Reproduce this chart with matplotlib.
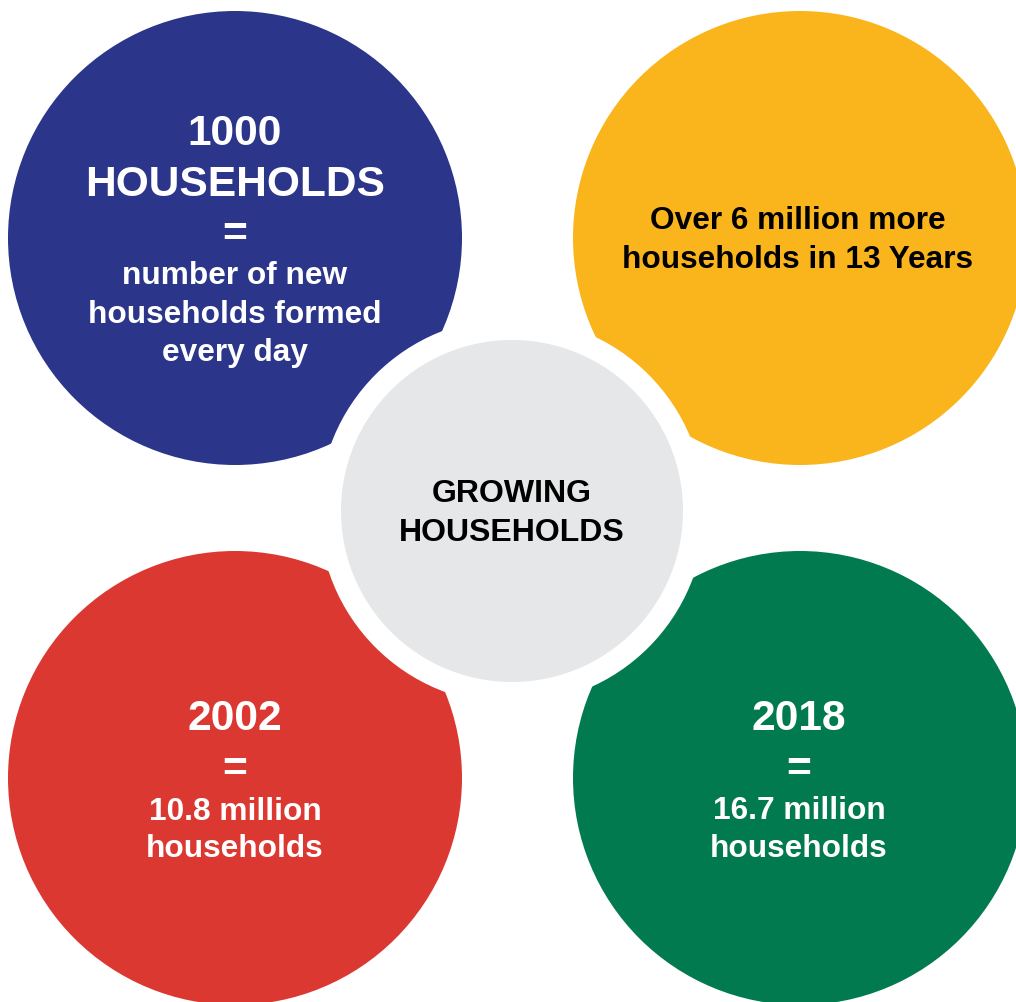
import matplotlib.pyplot as plt
from matplotlib.patches import Circle

plt.rcParams['font.family'] = ['Liberation Sans', 'DejaVu Sans']

# outer circles: centre (x, y) in pixels, fill colour, text colour
centres = [(235, 238), (800, 238), (235, 778), (800, 778)]
fills = ['#2b3589', '#fab51d', '#dc3832', '#027a4f']
text_colours = ['white', 'black', 'white', 'white']

BIG = 30.6
SMALL = 22.8

# each block of text: (line, font size, y offset from the circle centre)
blocks = [
    [('1000', BIG, -104), ('HOUSEHOLDS', BIG, -53), ('=', BIG, -3),
     ('number of new', SMALL, 38), ('households formed', SMALL, 77), ('every day', SMALL, 115)],
    [('Over 6 million more', SMALL, -17), ('households in 13 Years', SMALL, 22)],
    [('2002', BIG, -59), ('=', BIG, -8),
     ('10.8 million', SMALL, 34), ('households', SMALL, 71)],
    [('2018', BIG, -59), ('=', BIG, -8),
     ('16.7 million', SMALL, 33), ('households', SMALL, 71)],
]
text_dx = [0, -2, 0, -1]

centre_title = ['GROWING', 'HOUSEHOLDS']
hub = (512, 511)

fig = plt.figure(figsize=(10.16, 10.02), dpi=100)
ax = fig.add_axes([0, 0, 1, 1])
ax.set_xlim(0, 1016)
ax.set_ylim(1002, 0)
ax.set_aspect('equal')
ax.axis('off')

for (cx, cy), fc in zip(centres, fills):
    ax.add_patch(Circle((cx, cy), 227, facecolor=fc, edgecolor='none', zorder=1))

# white ring cuts into the outer circles, grey disc on top
ax.add_patch(Circle(hub, 193, facecolor='white', edgecolor='none', zorder=2))
ax.add_patch(Circle(hub, 171, facecolor='#e6e7e9', edgecolor='none', zorder=3))

for (cx, cy), lines, tc, dx in zip(centres, blocks, text_colours, text_dx):
    for txt, size, dy in lines:
        ax.text(cx + dx, cy + dy, txt, color=tc, fontsize=size, fontweight='bold',
                ha='center', va='center', zorder=4)

for i, txt in enumerate(centre_title):
    ax.text(hub[0], hub[1] - 17 + i * 39, txt, color='black', fontsize=23,
            fontweight='bold', ha='center', va='center', zorder=4)

fig.savefig('out.png', dpi=100)
